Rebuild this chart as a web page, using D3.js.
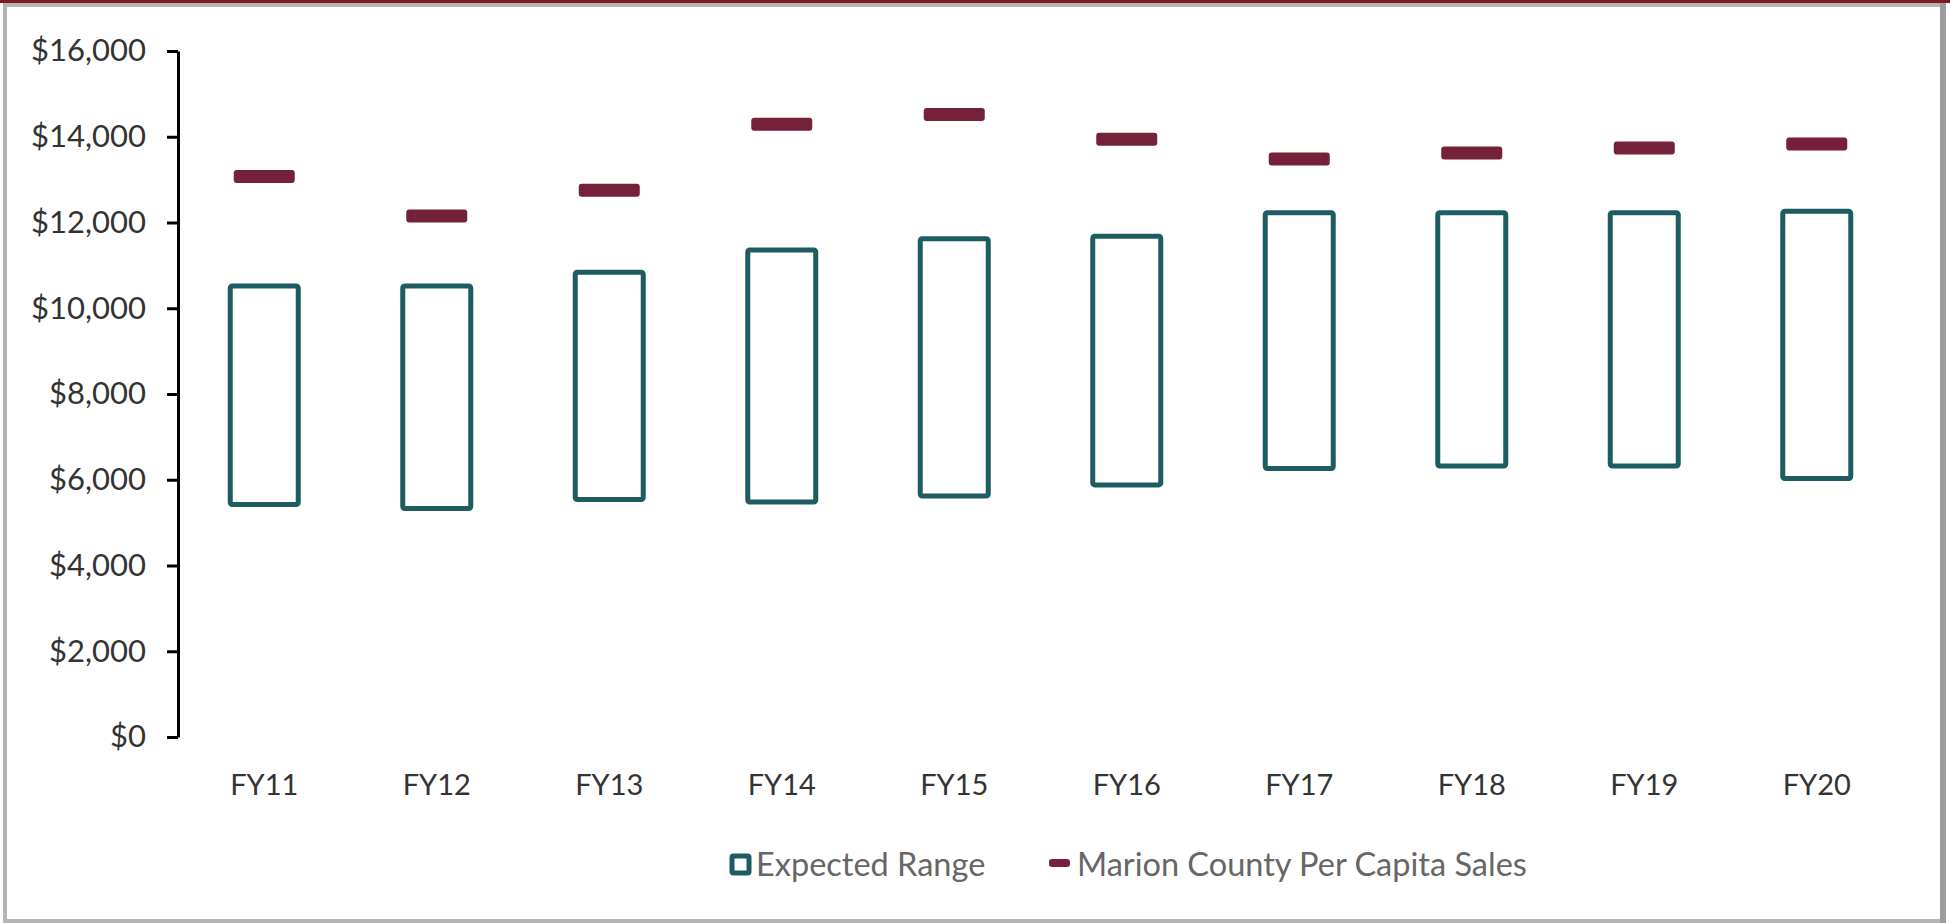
<!DOCTYPE html>
<html>
<head>
<meta charset="utf-8">
<script src="https://cdn.jsdelivr.net/npm/d3@7"></script>
<style>
    body { margin: 0; background: #fff; }
    svg { display: block; font-family: Lato, "Open Sans", sans-serif; }
</style>
</head>
<body>
<div id="chart"></div>
<script>
// values
var years = ["FY11", "FY12", "FY13", "FY14", "FY15", "FY16", "FY17", "FY18", "FY19", "FY20"];
var rangeLow = [5420, 5330, 5540, 5480, 5620, 5880, 6260, 6320, 6320, 6030];
var rangeHigh = [10520, 10520, 10840, 11360, 11620, 11680, 12230, 12230, 12230, 12260];
var perCapitaSales = [13070, 12150, 12750, 14290, 14520, 13940, 13480, 13620, 13740, 13830];
var yTicks = [0, 2000, 4000, 6000, 8000, 10000, 12000, 14000, 16000];
var legendLabels = ["Expected Range", "Marion County Per Capita Sales"];

var width = 1950;
var height = 923;
var margin = ({ top: 51, right: 47, bottom: 186, left: 178 });
var teal = "#1d5d62";
var maroon = "#75213a";

var svg = d3.select("#chart").append("svg")
    .attr("width", width)
    .attr("height", height);

// frame round the picture
svg.append("rect")
    .attr("x", 5).attr("y", 5)
    .attr("width", width - 12).attr("height", height - 7)
    .attr("fill", "#fff")
    .attr("stroke", "#b4b4b4")
    .attr("stroke-width", 4);
svg.append("rect")
    .attr("x", width - 10).attr("y", 3)
    .attr("width", 6).attr("height", height - 3)
    .attr("fill", "#9c9c9c");
svg.append("rect")
    .attr("x", 0).attr("y", 0)
    .attr("width", width).attr("height", 3)
    .attr("fill", "#7d1b22");

var x = d3.scaleBand()
    .domain(years)
    .range([margin.left, width - margin.right]);

var y = d3.scaleLinear()
    .domain([0, 16000])
    .range([height - margin.bottom, margin.top]);

var fmt = d3.format(",");

// y axis
var yAxis = svg.append("g")
    .attr("transform", `translate(${margin.left},0)`)
    .call(d3.axisLeft(y)
        .tickValues(yTicks)
        .tickSize(11)
        .tickSizeOuter(0)
        .tickPadding(21)
        .tickFormat(d => "$" + fmt(d)));
yAxis.select(".domain").attr("stroke", "#000").attr("stroke-width", 3);
yAxis.selectAll(".tick line").attr("stroke", "#000").attr("stroke-width", 3);
yAxis.selectAll(".tick text")
    .attr("fill", "#333")
    .style("font-size", "31px")
    .style("font-family", "Lato, sans-serif");

// category labels
svg.append("g")
    .selectAll("text")
    .data(years)
    .join("text")
    .attr("x", d => x(d) + x.bandwidth() / 2)
    .attr("y", 795)
    .attr("text-anchor", "middle")
    .attr("fill", "#333")
    .style("font-size", "29px")
    .text(d => d);

var boxW = 68;

// expected range boxes
svg.append("g")
    .selectAll("rect")
    .data(years)
    .join("rect")
    .attr("x", d => x(d) + x.bandwidth() / 2 - boxW / 2)
    .attr("y", (d, i) => y(rangeHigh[i]))
    .attr("width", boxW)
    .attr("height", (d, i) => y(rangeLow[i]) - y(rangeHigh[i]))
    .attr("rx", 2)
    .attr("fill", "none")
    .attr("stroke", teal)
    .attr("stroke-width", 5);

// per capita sales dashes
var dashW = 61, dashH = 13;
svg.append("g")
    .selectAll("rect")
    .data(years)
    .join("rect")
    .attr("x", d => x(d) + x.bandwidth() / 2 - dashW / 2)
    .attr("y", (d, i) => y(perCapitaSales[i]) - dashH / 2)
    .attr("width", dashW)
    .attr("height", dashH)
    .attr("rx", 3)
    .attr("fill", maroon);

// legend
var legend = svg.append("g").attr("class", "legend");

legend.append("rect")
    .attr("x", 732).attr("y", 856)
    .attr("width", 17).attr("height", 17)
    .attr("rx", 1.5)
    .attr("fill", "#fff")
    .attr("stroke", teal)
    .attr("stroke-width", 5);
legend.append("text")
    .attr("x", 756).attr("y", 876)
    .attr("fill", "#666")
    .style("font-size", "32.5px")
    .text(legendLabels[0]);

legend.append("rect")
    .attr("x", 1049).attr("y", 859)
    .attr("width", 21).attr("height", 8)
    .attr("rx", 3)
    .attr("fill", maroon);
legend.append("text")
    .attr("x", 1077).attr("y", 876)
    .attr("fill", "#666")
    .style("font-size", "32.5px")
    .text(legendLabels[1]);
</script>
</body>
</html>
